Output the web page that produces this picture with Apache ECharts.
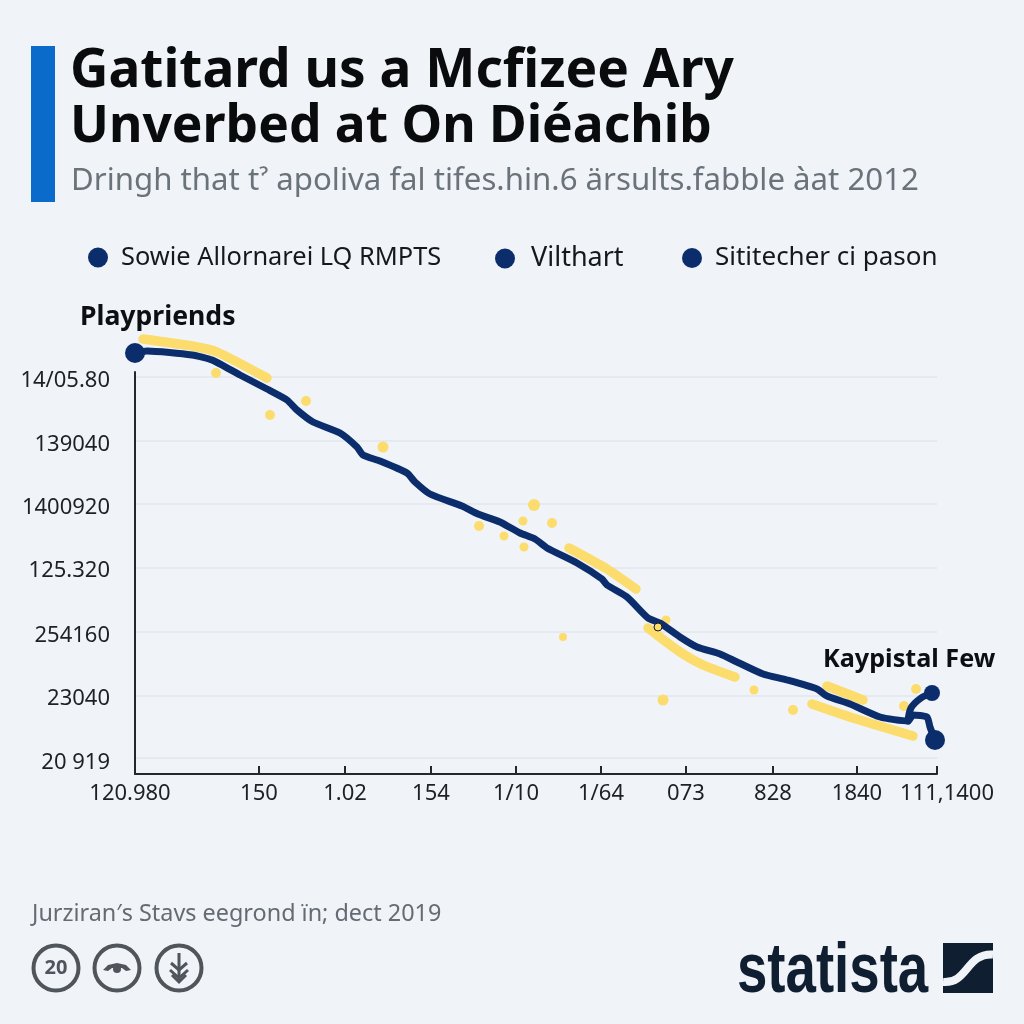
<!DOCTYPE html>
<html>
<head>
<meta charset="utf-8">
<style>html,body{margin:0;padding:0;background:#f0f4f9}#c{width:1024px;height:1024px}</style>
<script src="https://cdn.jsdelivr.net/npm/echarts@6/dist/echarts.min.js"></script>
</head>
<body>
<div id="c"></div>
<script>
const titleLines = ['Gatitard us a Mcfizee Ary', 'Unverbed at On Diéachib'];
const subtitleText = "Dringh that t\u02C0 apoliva fal tifes.hin.6 ärsults.fabble àat 2012";
const sourceText = "Jurziran\u2032s Stavs eegrond ïn; dect 2019";
const legendNames = ['Sowie Allornarei LQ RMPTS', 'Vilthart', 'Sititecher ci pason'];
const annotationStart = 'Playpriends';
const annotationEnd = 'Kaypistal Few';

const yTickLabels = ['20 919', '23040', '254160', '125.320', '1400920', '139040', '14/05.80'];
const yGridValues = [16, 78, 142, 206, 270, 333, 397];
const yLabelValues = [11, 75, 138, 203, 266, 329, 393];
const xTickLabels = ['120.980', '150', '1.02', '154', '1/10', '1/64', '073', '828', '1840', '111,1400'];
const xLabelValues = [0, 124, 210, 296, 381, 466, 551, 638, 722, 802];
const xTickValues = [124, 210, 296, 381, 466, 551, 638, 722, 802];

const mainX = [0,12,57,77,105,132,152,162,178,205,222,228,245,272,280,295,327,343,365,385,400,412,442,467,472,492,513,525,545,562,585,602,628,652,682,692,715,745,773,778,792,795,800];
const mainY = [421,423,419,414,399,385,374,364,352,341,327,319,313,301,292,280,268,260,252,241,235,226,211,195,189,177,156,151,137,127,120,112,100,94,85,78,70,57,53,59,57,47,34];
const branchX = [773,776,786,797];
const branchY = [53,66,76,81];
const bandX = [8,57,82,132,null,434,472,501,null,513,545,568,600,null,692,728,null,677,718,778];
const bandY = [435,428,422,396,null,226,205,185,null,146,122,109,97,null,88,74,null,70,56,38];
const dotX = [81,135,171,248,344,369,388,389,399,417,428,528,531,619,658,769,781];
const dotY = [401,359,373,327,248,238,253,227,269,251,137,74,154,84,64,68,85];
const dotSize = [10,10,10,11,10,9,9,9,12,10,8,11,9,9,10,10,10];
const ringDot = [523, 147];

const NAVY = '#0c2d6b', YELLOW = '#fbdc6c', INK = '#1d2125', RING = '#4f555b', BG = '#f0f4f9';
const FONT = '"Noto Sans", sans-serif';
const zip = (a, b) => a.map((v, i) => [v, b[i]]);

const legend = (name, left, fontSize, gap) => ({
  left, top: 245, padding: 0, icon: 'circle', itemWidth: 20, itemHeight: 20,
  data: [{ name, itemStyle: { color: NAVY } }],
  textStyle: { fontFamily: FONT, fontSize, color: '#15191d', padding: [0, 0, 0, gap] },
  selectedMode: false
});

const ring = cx => ({ type: 'circle', shape: { cx, cy: 968, r: 22.5 }, style: { fill: 'transparent', stroke: RING, lineWidth: 4 } });
const stroke = (points, w) => ({ type: 'polyline', shape: { points }, style: { fill: 'none', stroke: RING, lineWidth: w } });
const titleLine = (text, top, fontSize) => ({ text, left: 70, top, padding: 0, textStyle: { fontFamily: FONT, fontSize, fontWeight: 700, lineHeight: 56, color: '#0a0b0d' } });

const option = {
  animation: false,
  backgroundColor: BG,
  title: [
    titleLine(titleLines[0], 44, 53.2),
    titleLine(titleLines[1], 99, 51.5),
    { text: subtitleText, left: 71, top: 160, padding: 0, textStyle: { fontFamily: FONT, fontSize: 31.2, fontWeight: 400, lineHeight: 42, color: '#6a727a' } },
    { text: sourceText, left: 32, top: 900, padding: 0, textStyle: { fontFamily: FONT, fontSize: 23.4, fontWeight: 400, lineHeight: 28, color: '#656b72' } },
    { text: annotationStart, left: 80, top: 301, padding: 0, textStyle: { fontFamily: FONT, fontSize: 26.6, fontWeight: 700, lineHeight: 32, color: '#0d0f12' } },
    { text: annotationEnd, left: 823, top: 644, padding: 0, textStyle: { fontFamily: FONT, fontSize: 25.2, fontWeight: 700, lineHeight: 32, color: '#0d0f12' } }
  ],
  legend: [legend(legendNames[0], 88, 25.4, 8), legend(legendNames[1], 495, 27, 11), legend(legendNames[2], 682, 26, 8)],
  grid: { left: 135, top: 372, width: 802, height: 402 },
  xAxis: {
    type: 'value', min: 0, max: 802,
    axisLine: { show: true, lineStyle: { color: '#23282e', width: 2 } },
    axisTick: { show: true, inside: true, length: 8, customValues: xTickValues, lineStyle: { color: '#23282e', width: 2 } },
    splitLine: { show: false },
    axisLabel: {
      customValues: xLabelValues, margin: 9, color: INK, fontFamily: FONT, fontSize: 22, showMinLabel: true, showMaxLabel: true, hideOverlap: false,
      formatter: v => {
        const i = xLabelValues.indexOf(v);
        if (i === 0) return '{first|' + xTickLabels[i] + '}';
        if (i === xLabelValues.length - 1) return '{last|' + xTickLabels[i] + '}';
        return xTickLabels[i];
      },
      rich: { first: { padding: [0, 10, 0, 0], fontSize: 22, fontFamily: FONT, color: INK }, last: { padding: [0, 0, 0, 20], fontSize: 22, fontFamily: FONT, color: INK } }
    }
  },
  yAxis: {
    type: 'value', min: 0, max: 402,
    axisLine: { show: true, lineStyle: { color: '#23282e', width: 2 } },
    axisTick: { show: false, customValues: yGridValues },
    splitLine: { show: true, lineStyle: { color: '#e2e6ec', width: 1.5 } },
    axisLabel: {
      customValues: yLabelValues, margin: 25, color: INK, fontFamily: FONT, fontSize: 22,
      formatter: v => yTickLabels[yLabelValues.indexOf(v)]
    }
  },
  series: [
    { name: legendNames[2], type: 'line', z: 2, clip: false, connectNulls: false, symbol: 'none', color: YELLOW, smooth: 0.2,
      lineStyle: { color: YELLOW, width: 9.5, cap: 'round', join: 'round' }, data: zip(bandX, bandY) },
    { name: 'dots', type: 'scatter', z: 2, clip: false, itemStyle: { color: YELLOW, opacity: 1 },
      symbolSize: (v, p) => dotSize[p.dataIndex], data: zip(dotX, dotY) },
    { name: legendNames[1], type: 'line', z: 3, clip: false, color: NAVY, showAllSymbol: true, smooth: 0.3,
      symbol: (v, p) => p.dataIndex === branchX.length - 1 ? 'circle' : 'none', symbolSize: 16,
      itemStyle: { color: NAVY }, lineStyle: { color: NAVY, width: 7, cap: 'round', join: 'round' }, data: zip(branchX, branchY) },
    { name: legendNames[0], type: 'line', z: 3, clip: false, color: NAVY, showAllSymbol: true, smooth: 0.2,
      symbol: (v, p) => (p.dataIndex === 0 || p.dataIndex === mainX.length - 1) ? 'circle' : 'none', symbolSize: 20,
      itemStyle: { color: NAVY }, lineStyle: { color: NAVY, width: 7, cap: 'round', join: 'round' }, data: zip(mainX, mainY) },
    { name: 'ring', type: 'scatter', z: 4, clip: false, symbolSize: 8,
      itemStyle: { color: YELLOW, borderColor: '#14181c', borderWidth: 1, opacity: 1 }, data: [ringDot] }
  ],
  graphic: [
    { type: 'rect', shape: { x: 31, y: 46, width: 24, height: 156 }, style: { fill: '#0a6bcb' } },
    ring(56), ring(117), ring(179),
    { type: 'text', style: { x: 56, y: 968, text: '20', fill: RING, font: '700 20px ' + FONT, align: 'center', verticalAlign: 'middle' } },
    { type: 'polygon', shape: { points: [[103,970],[108,965],[117,963],[126,965],[131,970],[126,971],[122,968],[112,968],[108,971]] }, style: { fill: RING } },
    { type: 'circle', shape: { cx: 117, cy: 969, r: 4 }, style: { fill: RING } },
    stroke([[179,953],[179,981]], 3),
    stroke([[171,963],[179,970],[187,963]], 3),
    stroke([[170,970],[179,978],[188,970]], 3),
    stroke([[172,975],[179,982],[186,975]], 3),
    { type: 'text', x: 737, y: 1008, scaleX: 0.78, style: { x: 0, y: 0, text: 'statista', fill: '#0f1e30', font: '700 70px "Liberation Sans", sans-serif', align: 'left', verticalAlign: 'bottom' } },
    { type: 'rect', shape: { x: 943, y: 943, width: 50, height: 50 }, style: { fill: '#0f1e30' } },
    { type: 'bezierCurve', shape: { x1: 943, y1: 982, cpx1: 968, cpy1: 984, cpx2: 966, cpy2: 953, x2: 993, y2: 954.5 }, style: { fill: 'none', stroke: BG, lineWidth: 8 } }
  ]
};
echarts.init(document.getElementById('c')).setOption(option);
</script>
</body>
</html>
